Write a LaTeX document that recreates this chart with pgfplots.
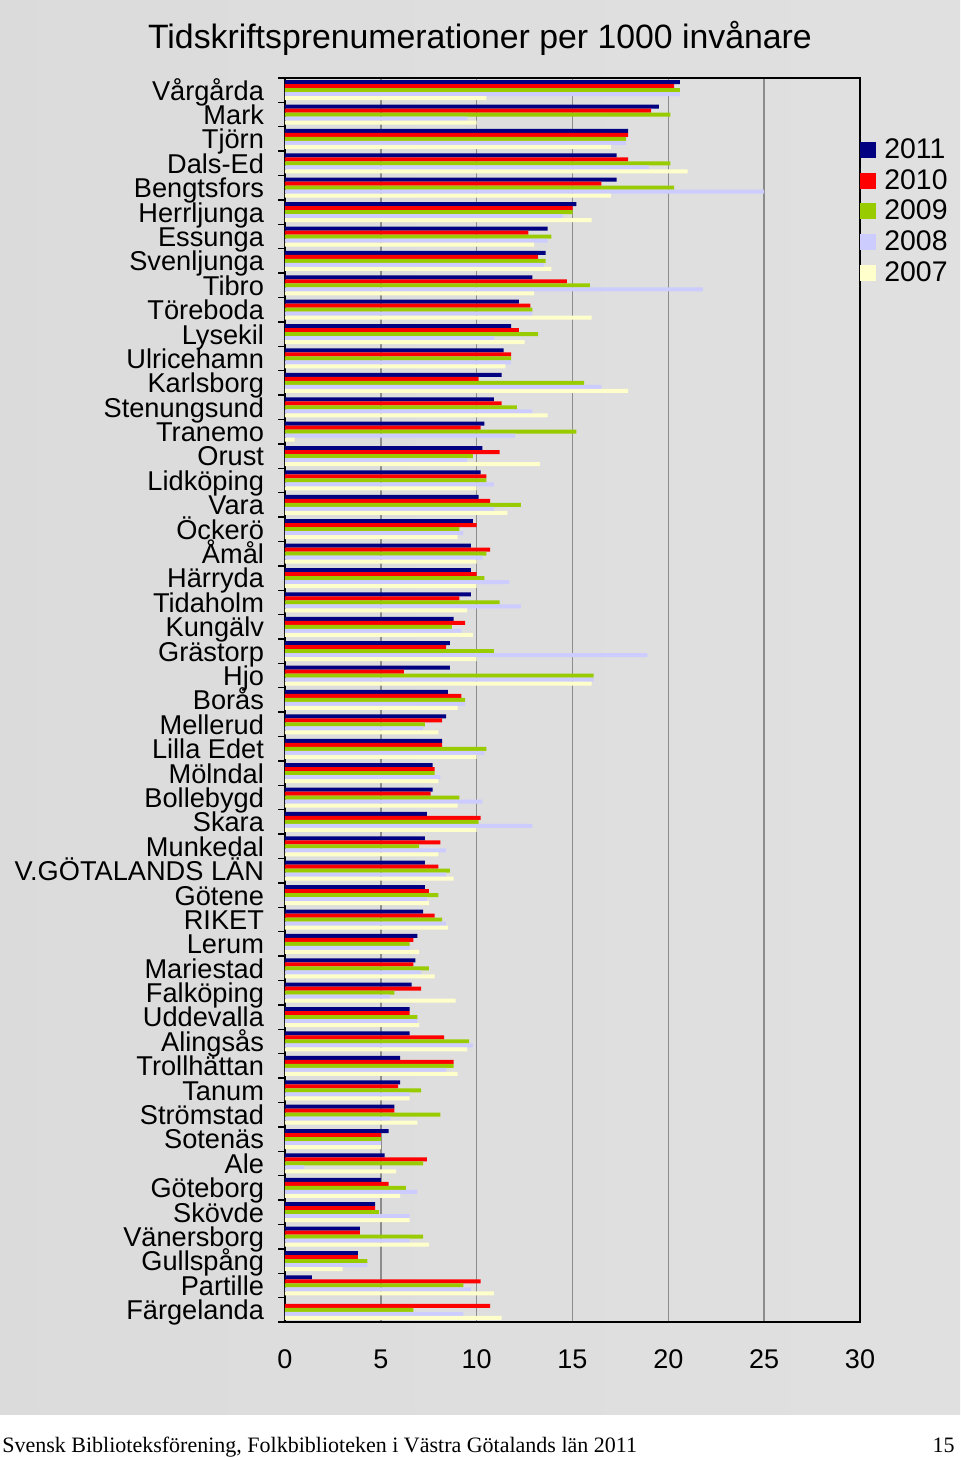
\documentclass[border=0pt]{standalone}
\usepackage{fontspec}
\setmainfont{Liberation Sans}
\newfontfamily\footfont{Liberation Serif}
\usepackage{graphicx}
\usepackage{pgfplots}
\usepackage{pgfplotstable}
\pgfplotsset{compat=1.18}

\definecolor{c2011}{RGB}{0,0,128}
\definecolor{c2010}{RGB}{255,0,0}
\definecolor{c2009}{RGB}{153,204,0}
\definecolor{c2008}{RGB}{204,204,255}
\definecolor{c2007}{RGB}{255,255,204}
\definecolor{gridgray}{RGB}{140,140,140}

% idx 50 = Vårgårda (top) ... 0 = Färgelanda (bottom)
\pgfplotstableread{
idx  a     b     c     d     e
50   20.6  20.3  20.6  20.6  10.5
49   19.5  19.1  20.1  9.5   10.0
48   17.9  17.9  17.8  17.8  17.0
47   17.3  17.9  20.1  19.0  21.0
46   17.3  16.5  20.3  25.0  17.0
45   15.2  15.0  15.0  14.5  16.0
44   13.7  12.7  13.9  13.7  13.0
43   13.6  13.2  13.6  13.5  13.9
42   12.9  14.7  15.9  21.8  13.0
41   12.2  12.8  12.9  12.9  16.0
40   11.8  12.2  13.2  10.9  12.5
39   11.4  11.8  11.8  11.8  11.5
38   11.3  10.1  15.6  16.5  17.9
37   10.9  11.3  12.1  12.9  13.7
36   10.4  10.2  15.2  12.0  0.5
35   10.3  11.2  9.8   9.5   13.3
34   10.2  10.5  10.5  10.9  10.0
33   10.1  10.7  12.3  10.9  11.6
32   9.8   10.0  9.1   9.3   9.0
31   9.7   10.7  10.5  10.3  10.0
30   9.7   10.0  10.4  11.7  10.0
29   9.7   9.1   11.2  12.3  9.5
28   8.8   9.4   8.7   9.2   9.8
27   8.6   8.4   10.9  18.9  10.0
26   8.6   6.2   16.1  16.1  16.0
25   8.5   9.2   9.4   9.4   9.0
24   8.4   8.2   7.3   7.2   8.0
23   8.2   8.2   10.5  10.4  10.0
22   7.7   7.8   7.8   8.1   8.0
21   7.7   7.6   9.1   10.3  9.0
20   7.4   10.2  10.1  12.9  10.0
19   7.3   8.1   7.0   8.4   8.0
18   7.3   8.0   8.6   8.4   8.8
17   7.3   7.5   8.0   7.4   7.5
16   7.2   7.8   8.2   8.4   8.5
15   6.9   6.7   6.5   6.5   7.0
14   6.8   6.7   7.5   7.1   7.8
13   6.6   7.1   5.7   5.5   8.9
12   6.5   6.5   6.9   6.9   7.0
11   6.5   8.3   9.6   9.8   9.5
10   6.0   8.8   8.8   8.4   9.0
9    6.0   5.9   7.1   6.5   6.5
8    5.7   5.7   8.1   5.5   6.9
7    5.4   5.0   5.0   5.0   5.0
6    5.2   7.4   7.2   1.0   5.8
5    5.0   5.4   6.3   6.9   6.0
4    4.7   4.7   4.9   6.5   6.5
3    3.9   3.9   7.2   6.5   7.5
2    3.8   3.8   4.3   4.3   3.0
1    1.4   10.2  9.3   9.7   10.9
0    0.0   10.7  6.7   9.3   11.3
}\data

\begin{document}
\begin{tikzpicture}
\useasboundingbox (0,0) rectangle (480pt,730pt);
\shade[left color=black!14, middle color=black!3, right color=black!12] (0,22.5pt) rectangle (480pt,730pt);
\node[font=\fontsize{16.9}{19}\selectfont] at (240pt,711pt) {Tidskriftsprenumerationer per 1000 invånare};
\node[anchor=base west, inner sep=0pt, font=\footfont\fontsize{11}{13}\selectfont] at (1pt,4pt)
  {Svensk Biblioteksförening, Folkbiblioteken i Västra Götalands län 2011};
\node[anchor=base east, inner sep=0pt, font=\footfont\fontsize{11}{13}\selectfont] at (477.5pt,4pt) {15};

\begin{axis}[
  at={(142.5pt,69pt)}, anchor=south west,
  scale only axis, width=287.5pt, height=622pt,
  xbar, bar width=2pt,
  xmin=0, xmax=30, ymin=-0.5, ymax=50.5,
  xtick={0,5,...,30},
  ytick={0,...,50},
  yticklabels={Färgelanda,Partille,Gullspång,Vänersborg,Skövde,Göteborg,Ale,Sotenäs,Strömstad,Tanum,Trollhättan,Alingsås,Uddevalla,Falköping,Mariestad,Lerum,RIKET,Götene,V.GÖTALANDS LÄN,Munkedal,Skara,Bollebygd,Mölndal,Lilla Edet,Mellerud,Borås,Hjo,Grästorp,Kungälv,Tidaholm,Härryda,Åmål,Öckerö,Vara,Lidköping,Orust,Tranemo,Stenungsund,Karlsborg,Ulricehamn,Lysekil,Töreboda,Tibro,Svenljunga,Essunga,Herrljunga,Bengtsfors,Dals-Ed,Tjörn,Mark,Vårgårda},
  minor ytick={-0.5,0.5,...,50.5},
  ytick pos=left, xtick pos=bottom,
  major tick length=0pt, minor tick length=3.5pt, tick align=outside,
  minor tick style={black, line width=0.7pt},
  xmajorgrids, major grid style={gridgray, line width=0.7pt},
  axis line style={black, line width=0.8pt},
  yticklabel style={font=\fontsize{13.6}{14}\selectfont, xshift=-7pt, yshift=-1.5pt, text height=9.8pt, text depth=2.9pt},
  xticklabel style={font=\fontsize{13.5}{15}\selectfont, yshift=-10.5pt},
  /pgf/number format/assume math mode=true,
  legend cell align=left,
  legend image code/.code={\fill[#1] (0pt,-4pt) rectangle (8pt,4pt);},
  legend style={at={(1.0,0.955)}, anchor=north west, draw=none, fill=none,
    inner sep=0pt, font=\fontsize{14.2}{15}\selectfont, row sep=0pt,
    /tikz/every odd column/.append style={column sep=2pt}},
]
\addplot[fill=c2011, draw=none, bar shift=4pt] table[x=a, y=idx] {\data};
\addplot[fill=c2010, draw=none, bar shift=2pt] table[x=b, y=idx] {\data};
\addplot[fill=c2009, draw=none, bar shift=0pt] table[x=c, y=idx] {\data};
\addplot[fill=c2008, draw=none, bar shift=-2pt] table[x=d, y=idx] {\data};
\addplot[fill=c2007, draw=none, bar shift=-4pt] table[x=e, y=idx] {\data};
\legend{2011,2010,2009,2008,2007}
\end{axis}
\end{tikzpicture}
\end{document}
